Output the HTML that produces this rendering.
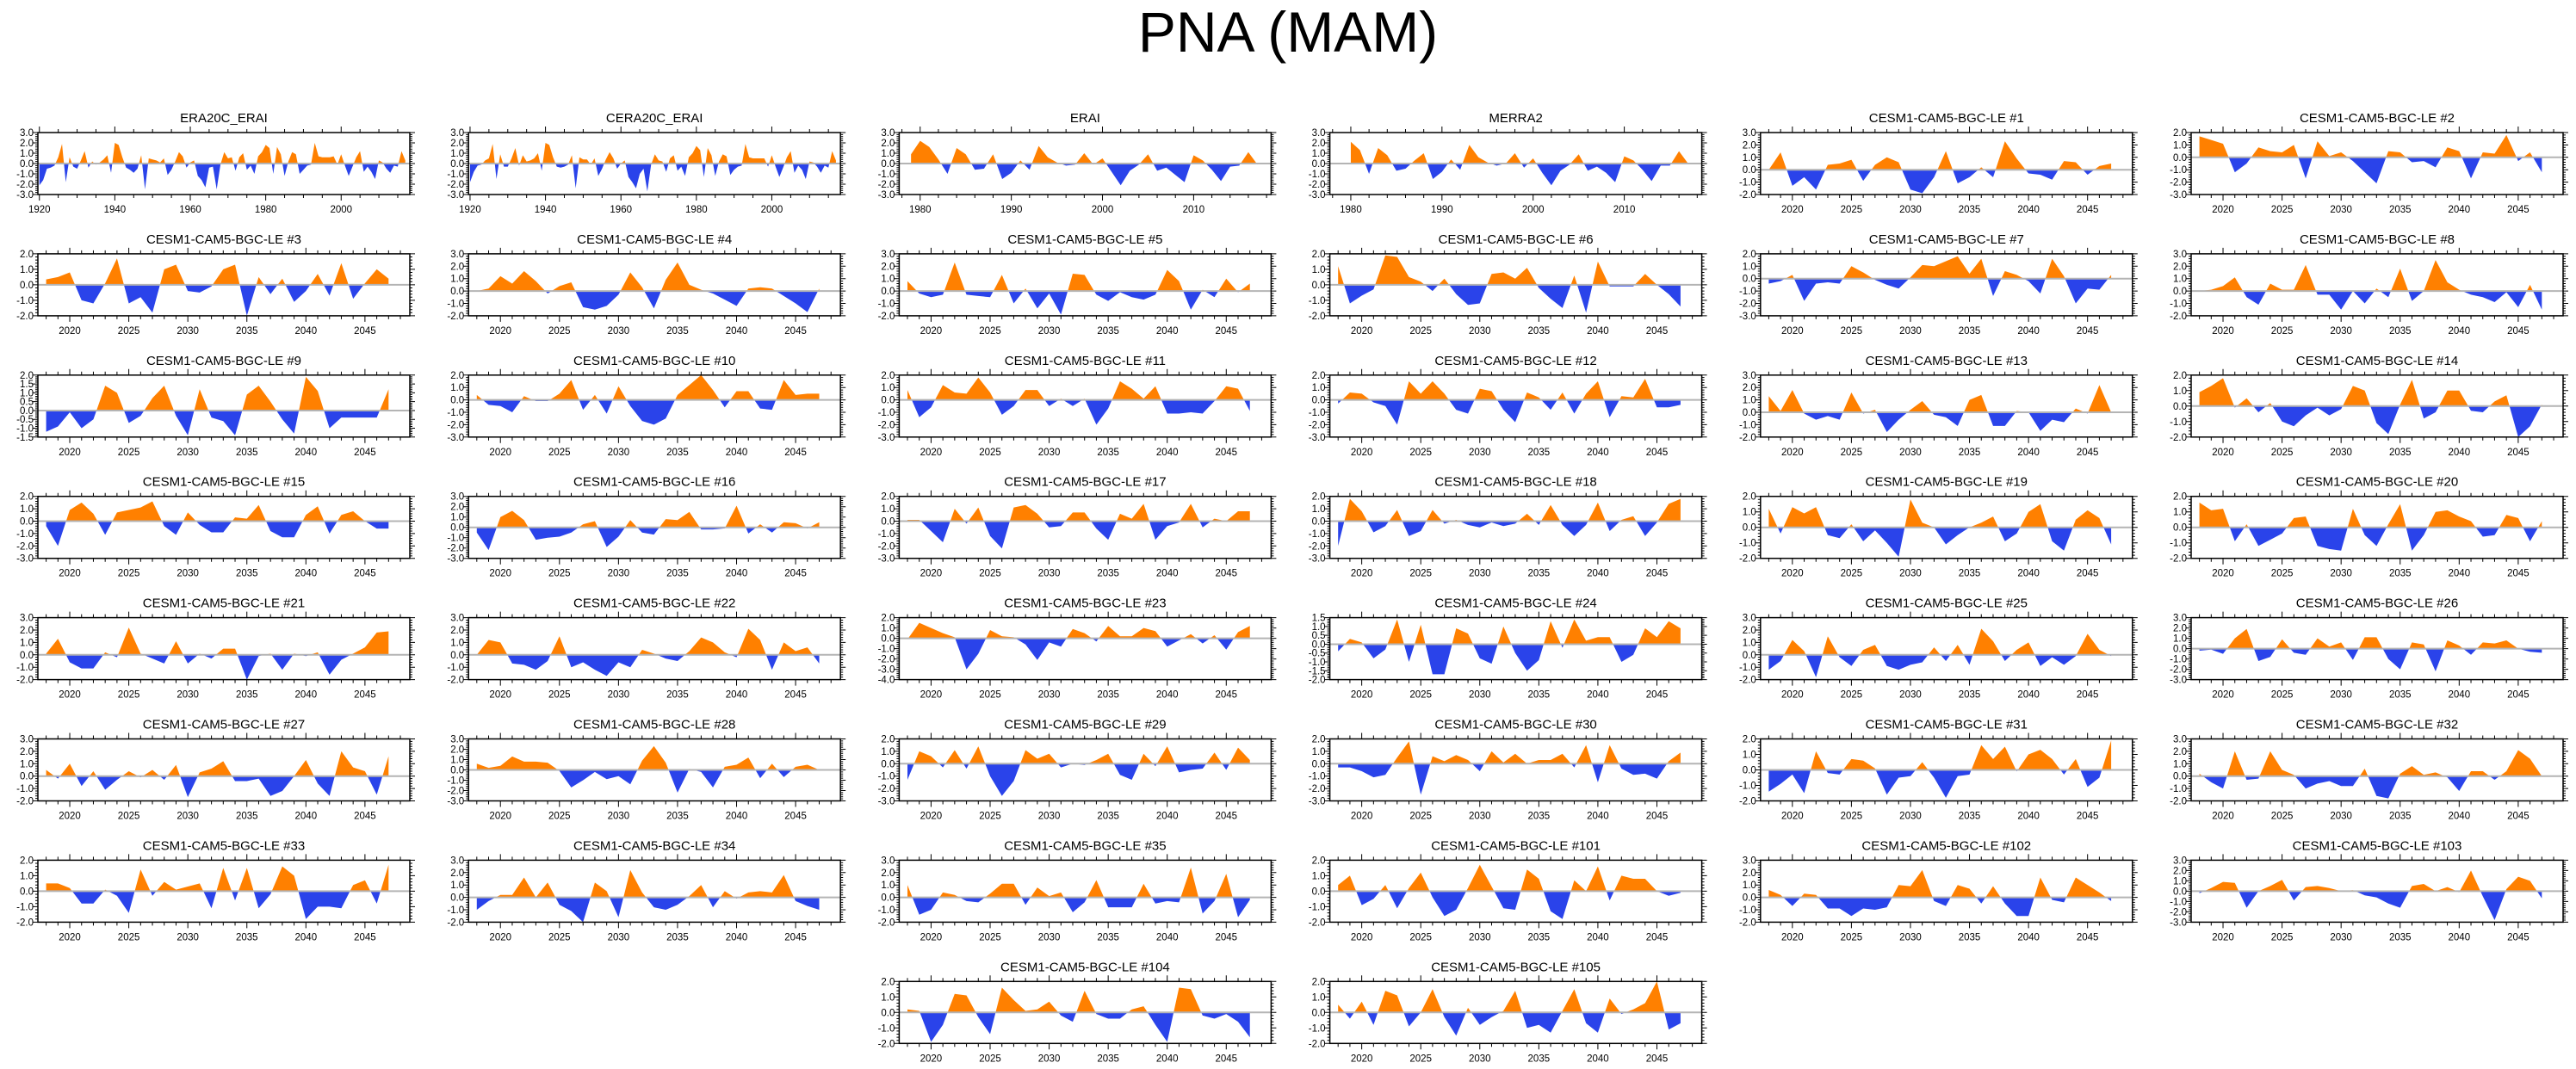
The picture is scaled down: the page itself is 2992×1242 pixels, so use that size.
<!DOCTYPE html>
<html><head><meta charset="utf-8">
<style>
html,body{margin:0;padding:0;background:#fff;}
svg{display:block;font-family:"Liberation Sans",Arial,sans-serif;}
</style></head>
<body>
<svg id="chart" width="2992" height="1242" viewBox="0 0 2992 1242" xmlns="http://www.w3.org/2000/svg">
<rect x="0" y="0" width="2992" height="1242" fill="#fff"/>
<text x="1496" y="60" font-size="66" text-anchor="middle" fill="#000">PNA (MAM)</text>
<g id="panels"></g>
</svg>
<script>
// ---- data arrays (PNA index values) ----
const s_era20c = [-2.1,-1.6,-0.5,-0.4,-0.2,0.6,1.9,-1.8,0.6,-0.3,-0.5,0.3,1.2,-0.4,0.2,-0.1,0.1,0.4,0.8,-0.9,2.0,1.8,0.6,-0.4,-0.6,-0.9,-0.5,0.8,-2.5,0.5,0.4,0.3,0.1,0.5,-1.1,-0.6,0.2,1.1,0.7,-0.4,0.1,0.3,-1.2,-1.6,-2.3,-0.4,-0.3,-2.5,-0.1,1.1,0.5,0.6,-0.7,0.6,1.0,-0.6,-0.2,-1.0,0.7,1.1,1.8,1.5,-1.0,1.6,0.9,-1.2,0.2,1.1,0.9,-1.0,-0.6,-0.2,-0.1,2.0,0.7,0.6,0.6,0.6,0.7,-0.1,0.9,-0.2,-1.2,-0.3,0.6,1.2,-0.8,-0.3,-0.8,-1.5,0.3,0.1,-0.5,-0.9,-0.2,-0.3,1.2,0.3];
const s_cera20c = [-1.8,-0.8,-0.2,-0.1,0.3,0.5,1.9,-1.5,0.9,-0.3,-0.3,0.5,1.5,-0.2,0.8,0.2,0.3,0.5,1.0,-0.7,2.0,1.8,0.6,-0.3,-0.4,-0.3,-0.1,0.8,-2.4,0.6,0.4,0.4,-0.1,0.5,-1.2,-0.5,0.4,1.1,0.5,-0.5,0.0,0.3,-1.3,-1.8,-2.4,-1.0,-0.5,-2.7,-0.1,0.9,0.3,0.2,-0.8,0.5,0.8,-0.7,-0.3,-1.2,0.6,1.0,1.7,1.3,-1.3,1.5,0.8,-1.2,0.2,0.9,0.7,-1.1,-0.6,-0.3,-0.2,1.9,0.6,0.5,0.5,0.5,0.5,-0.3,0.8,-0.3,-1.3,-0.4,0.6,1.2,-0.9,-0.2,-0.6,-1.5,0.2,0.1,-0.3,-0.9,-0.2,-0.4,1.2,0.3];
const s_erai = [0.9,2.2,1.6,0.4,-1.0,1.5,0.9,-0.6,-0.5,0.9,-1.5,-0.9,0.3,-0.6,1.7,0.6,0.1,-0.2,-0.1,1.0,-0.1,0.5,-0.8,-2.1,-0.7,-0.1,0.9,-0.7,-0.4,-1.1,-1.8,0.8,0.3,-0.6,-1.7,-0.3,-0.2,1.1,-0.1];
const s_merra2 = [2.1,1.3,-1.0,1.5,0.8,-0.7,-0.5,0.3,1.0,-1.5,-0.8,0.4,-0.6,1.8,0.6,0.1,-0.2,0.0,1.0,-0.4,0.5,-0.9,-2.1,-0.7,-0.1,0.9,-0.7,-0.3,-0.9,-1.8,0.7,0.3,-0.6,-1.7,-0.2,-0.2,1.2,0.0];
const s_le1 = [0.0,1.4,-1.3,-0.6,-1.6,0.4,0.5,0.8,-0.9,0.4,1.0,0.6,-1.6,-1.9,-0.6,1.5,-1.1,-0.6,0.2,-0.6,2.3,0.9,-0.3,-0.4,-0.8,0.7,0.6,-0.4,0.3,0.5];
const s_le2 = [1.7,1.4,1.1,-1.2,-0.5,0.8,0.5,0.4,1.0,-1.7,1.3,0.1,0.4,-0.3,-1.2,-2.1,0.5,0.4,-0.4,-0.3,-0.8,0.8,0.5,-1.7,0.4,0.3,1.8,-0.3,0.4,-1.2];
const s_le3 = [0.35,0.5,0.8,-1.0,-1.2,0.1,1.7,-1.2,-0.8,-1.8,1.0,1.3,-0.4,-0.5,-0.1,1.0,1.3,-2.0,0.5,-0.6,0.4,-1.1,-0.4,0.7,-0.7,1.4,-0.9,0.1,1.0,0.4];
const s_le4 = [0.0,0.2,1.2,0.6,1.6,0.8,-0.2,0.4,0.7,-1.3,-1.5,-1.2,-0.3,1.5,0.3,-1.4,0.9,2.3,0.5,0.1,-0.2,-0.7,-1.2,0.2,0.3,0.2,-0.4,-1.0,-1.7,0.2];
const s_le5 = [0.8,-0.2,-0.5,-0.3,2.3,-0.3,-0.4,-0.5,1.3,-1.0,0.2,-1.4,-0.2,-1.9,1.4,1.3,-0.3,-0.8,-0.1,-0.5,-0.7,-0.3,1.7,0.8,-1.5,0.1,-0.5,1.0,-0.1,0.6];
const s_le6 = [1.2,-1.2,-0.7,-0.3,1.9,1.8,0.5,0.2,-0.4,0.4,-0.6,-1.3,-1.2,0.7,0.8,0.4,1.1,-0.2,-0.9,-1.5,0.6,-1.8,1.5,-0.1,-0.1,-0.1,0.7,0.0,-0.6,-1.4];
const s_le7 = [-0.4,-0.2,0.3,-1.8,-0.4,-0.3,-0.4,1.0,0.5,-0.1,-0.5,-0.8,0.1,1.1,1.0,1.4,1.8,0.4,1.6,-1.4,0.6,0.3,-0.2,-1.2,1.6,0.2,-2.0,-0.8,-0.9,0.3];
const s_le8 = [0.0,0.1,0.4,1.1,-0.5,-1.1,0.6,0.1,0.1,2.1,-0.3,-0.3,-1.5,0.0,-1.0,0.2,-0.5,1.8,-0.8,0.0,2.5,0.7,0.1,-0.3,-0.5,-0.9,-0.1,-1.3,0.5,-1.5];
const s_le9 = [-1.2,-0.9,-0.1,-1.0,-0.5,1.4,1.0,-0.7,-0.3,0.7,1.4,-0.3,-1.4,1.2,-0.4,-0.6,-1.4,0.9,1.4,0.5,-0.5,-1.3,1.9,1.1,-1.0,-0.4,-0.4,-0.4,-0.4,1.2];
const s_le10 = [0.4,-0.4,-0.5,-1.0,0.3,-0.1,-0.1,0.5,1.6,-0.8,0.4,-1.1,1.1,-0.5,-1.7,-2.0,-1.5,0.4,1.2,2.0,0.8,-0.6,0.7,0.7,-0.7,-0.8,1.6,0.4,0.5,0.5];
const s_le11 = [0.8,-1.4,-0.6,1.2,0.6,0.5,1.8,0.6,-1.2,-0.5,0.8,0.8,-0.5,0.1,-0.5,0.1,-2.0,-0.7,1.5,0.9,0.1,1.1,-1.1,-1.1,-1.0,-1.1,-0.1,1.1,0.9,-0.9];
const s_le12 = [-0.3,0.6,0.5,-0.2,-0.5,-2.0,1.5,0.5,1.5,0.5,-0.8,-1.1,0.9,0.7,-0.8,-1.8,0.6,0.2,-0.8,0.6,-1.1,0.5,1.5,-1.4,0.3,0.2,1.7,-0.6,-0.6,-0.4];
const s_le13 = [1.3,0.1,1.8,-0.1,-0.6,-0.3,-0.6,1.6,-0.1,0.2,-1.6,-0.6,0.2,0.9,-0.2,-0.4,-1.1,1.0,1.4,-1.1,-1.1,0.1,0.0,-1.5,-0.6,-0.8,0.3,-0.1,2.2,0.0];
const s_le14 = [0.9,1.3,1.8,-0.1,0.5,-0.4,0.2,-1.0,-1.3,-0.6,-0.1,-0.6,-0.2,1.3,1.0,-1.1,-1.8,0.1,1.7,-0.8,-0.4,1.0,1.0,-0.3,-0.4,0.3,0.7,-2.0,-1.3,0.1];
const s_le15 = [-0.4,-2.0,0.9,1.5,0.6,-1.1,0.7,0.9,1.1,1.6,-0.4,-1.1,0.7,-0.3,-0.9,-0.9,0.3,0.2,1.3,-0.8,-1.3,-1.3,0.5,1.2,-1.0,0.5,0.8,0.0,-0.6,-0.6];
const s_le16 = [-0.5,-2.2,1.0,1.6,0.7,-1.2,-1.0,-0.9,-0.5,0.3,0.6,-1.9,-0.9,0.7,-0.5,-0.7,0.8,0.7,1.5,-0.2,-0.2,-0.1,2.1,-0.6,0.3,-0.5,0.5,0.4,-0.1,0.5];
const s_le17 = [0.1,0.1,-0.8,-1.7,1.0,-0.2,1.1,-1.2,-2.2,1.1,1.3,0.6,-0.5,-0.4,0.7,0.7,-0.6,-1.5,0.6,0.2,1.4,-1.5,-0.4,-0.1,1.4,-0.5,0.2,0.0,0.8,0.8];
const s_le18 = [-2.0,1.8,0.8,-0.9,-0.4,0.9,-1.2,-0.8,0.9,-0.2,0.1,-0.3,-0.5,-0.1,-0.4,-0.2,0.6,-0.3,1.3,-0.3,-1.2,-0.3,1.5,-0.8,0.1,0.4,-1.2,-0.1,1.4,1.8];
const s_le19 = [1.2,-0.4,1.3,0.9,1.3,-0.5,-0.7,0.2,-0.9,-0.2,-1.0,-1.9,1.8,0.3,0.0,-1.1,-0.5,0.0,0.3,0.7,-0.9,-0.4,1.0,1.5,-0.9,-1.5,0.5,1.1,0.6,-1.1];
const s_le20 = [1.6,1.1,1.2,-0.9,0.2,-1.2,-0.8,-0.4,0.6,0.7,-1.2,-1.4,-1.5,1.2,-0.5,-1.2,0.2,1.5,-1.5,-0.5,1.0,1.1,0.7,0.4,-0.6,-0.5,0.8,0.6,-0.9,0.4];
const s_le21 = [0.1,1.3,-0.6,-1.1,-1.1,0.2,-0.2,2.2,0.1,-0.3,-0.7,1.1,-0.7,0.1,-0.3,0.5,0.5,-2.0,-0.1,0.1,-1.2,0.1,-0.1,0.2,-1.6,-0.4,0.1,0.6,1.8,1.9];
const s_le22 = [0.0,1.2,1.0,-0.7,-0.8,-1.2,-0.5,1.5,-1.0,-0.6,-1.2,-1.7,-0.6,-1.0,0.4,0.1,-0.3,-0.5,0.3,1.4,1.0,0.2,-0.2,2.1,1.2,-1.2,1.0,0.3,0.6,-0.7];
const s_le23 = [-0.1,1.5,1.0,0.5,0.1,-3.0,-1.5,0.8,0.2,0.1,-0.6,-2.1,-0.4,-0.8,0.9,0.5,-0.3,1.2,0.2,0.2,1.0,0.7,-0.8,-0.2,0.4,-0.5,0.3,-1.1,0.6,1.2];
const s_le24 = [-0.4,0.3,0.1,-0.8,-0.3,1.4,-1.0,1.1,-1.7,-1.7,0.9,0.6,-0.8,-1.1,1.0,-0.5,-1.5,-0.9,1.3,-0.2,1.4,0.2,0.4,0.4,-1.0,-0.6,0.9,0.4,1.3,0.9];
const s_le25 = [-1.2,-0.5,1.2,0.3,-1.8,1.5,-0.2,-0.9,0.4,0.8,-0.9,-1.2,-0.8,-0.6,0.6,-0.5,0.8,-0.8,2.1,1.1,-0.5,0.4,1.0,-0.9,-0.2,-0.8,-0.1,1.7,0.4,-0.1];
const s_le26 = [-0.2,-0.1,-0.5,1.0,1.9,-1.2,-0.8,0.9,-0.4,-0.6,1.0,0.2,0.6,-1.1,1.1,1.1,-1.0,-2.0,0.6,0.4,-2.2,0.8,0.3,-0.6,0.6,0.5,0.8,0.0,-0.3,-0.4];
const s_le27 = [0.5,-0.2,1.0,-0.8,0.4,-1.1,-0.3,0.4,-0.1,0.5,-0.3,0.9,-1.7,0.3,0.6,1.2,-0.4,-0.4,-0.2,-1.6,-1.2,0.0,1.3,-0.6,-1.6,2.0,0.7,0.4,-1.5,1.6];
const s_le28 = [0.6,0.2,0.4,1.3,0.8,0.8,0.7,-0.1,-1.7,-1.0,-0.2,-0.9,-0.6,-1.4,0.9,2.3,0.7,-2.2,0.1,-0.2,-1.7,0.3,0.5,1.2,-0.8,0.6,-0.7,0.3,0.5,0.0];
const s_le29 = [-1.3,1.0,0.6,-0.3,1.1,-0.4,1.4,-1.0,-2.6,-1.4,1.1,0.4,0.8,-0.3,0.0,-0.1,0.3,0.8,-0.9,-1.3,0.8,-0.2,1.4,-0.7,-0.5,-0.4,0.9,-0.5,1.3,0.3];
const s_le30 = [-0.3,-0.3,-0.6,-1.1,-0.9,0.5,1.8,-2.5,0.6,0.2,0.7,0.3,-0.6,1.0,0.1,0.8,0.0,0.3,0.3,0.8,-0.3,1.5,-1.5,1.5,-0.4,-0.9,-0.8,-1.2,0.2,0.9];
const s_le31 = [-1.4,-0.9,-0.3,-1.5,1.2,-0.2,-0.3,0.7,0.6,0.1,-1.6,-0.5,-0.4,0.5,-0.5,-1.8,-0.4,-0.3,1.6,0.7,1.5,-0.1,1.0,1.3,0.7,-0.3,0.7,-1.1,-0.5,1.9];
const s_le32 = [0.2,-0.5,-1.0,2.0,-0.3,-0.2,2.0,0.5,0.1,-1.0,-0.6,-0.4,-0.8,-0.8,0.6,-1.6,-1.8,0.2,0.8,0.1,0.3,-0.1,-1.2,0.4,0.4,-0.3,0.4,2.1,1.4,0.0];
const s_le33 = [0.5,0.5,0.2,-0.8,-0.8,0.1,-0.3,-1.4,1.4,-0.3,0.6,0.1,0.3,0.5,-1.1,1.5,-0.6,1.5,-1.1,-0.2,1.6,1.0,-1.8,-1.0,-1.0,-1.1,0.4,0.7,-0.8,1.7];
const s_le34 = [-1.0,-0.3,0.2,0.2,1.6,0.0,1.2,-0.6,-1.1,-2.0,1.2,0.5,-1.6,2.2,0.4,-0.8,-1.0,-0.6,0.1,1.0,-0.8,0.5,-0.1,0.4,0.5,0.4,1.8,-0.3,-0.7,-1.0];
const s_le35 = [1.0,-1.4,-1.0,0.4,0.2,-0.3,-0.4,0.3,1.1,1.1,-0.6,0.8,0.1,0.4,-1.2,-0.4,1.4,-0.8,-0.8,-0.8,1.1,-0.5,-0.3,-0.4,2.4,-1.3,-0.3,1.9,-1.6,-0.2];
const s_le101 = [0.4,1.0,-0.9,-0.5,0.4,-1.1,0.2,1.2,-0.4,-1.6,-1.2,0.2,1.7,0.3,-1.1,-1.2,1.4,0.8,-1.3,-1.8,0.7,0.0,1.6,-0.6,1.0,0.8,0.8,0.0,-0.3,-0.1];
const s_le102 = [0.6,0.2,-0.7,0.3,0.2,-0.9,-0.9,-1.5,-0.9,-1.0,-0.8,1.0,0.9,2.2,-0.3,-0.7,1.0,0.7,-0.5,0.9,-0.5,-1.5,-1.5,1.6,-0.2,-0.4,1.6,1.0,0.4,-0.3];
const s_le103 = [-0.2,0.3,0.9,0.8,-1.6,0.0,0.5,1.1,-0.9,0.4,0.5,0.3,0.0,0.1,-0.4,-0.6,-1.2,-1.6,0.5,0.7,0.0,0.4,-0.1,2.0,-0.5,-2.8,0.2,1.4,1.0,-0.7];
const s_le104 = [0.2,0.1,-1.9,-0.8,1.2,1.1,-0.3,-1.4,1.6,0.8,0.1,0.2,0.7,-0.2,-0.6,1.4,-0.1,-0.4,-0.4,0.2,0.4,-0.8,-1.9,1.6,1.5,-0.2,-0.4,-0.1,-0.6,-1.6];
const s_le105 = [0.5,-0.4,0.7,-0.8,1.4,1.1,-0.9,0.0,1.5,-0.3,-1.5,0.3,-0.8,-0.3,0.1,1.4,-1.0,-0.8,-1.3,0.1,1.5,-0.7,-1.3,0.9,-0.1,0.2,0.6,2.0,-1.1,-0.7];

const panelTitles = ["ERA20C_ERAI","CERA20C_ERAI","ERAI","MERRA2","CESM1-CAM5-BGC-LE #1","CESM1-CAM5-BGC-LE #2",
 "CESM1-CAM5-BGC-LE #3","CESM1-CAM5-BGC-LE #4","CESM1-CAM5-BGC-LE #5","CESM1-CAM5-BGC-LE #6","CESM1-CAM5-BGC-LE #7","CESM1-CAM5-BGC-LE #8",
 "CESM1-CAM5-BGC-LE #9","CESM1-CAM5-BGC-LE #10","CESM1-CAM5-BGC-LE #11","CESM1-CAM5-BGC-LE #12","CESM1-CAM5-BGC-LE #13","CESM1-CAM5-BGC-LE #14",
 "CESM1-CAM5-BGC-LE #15","CESM1-CAM5-BGC-LE #16","CESM1-CAM5-BGC-LE #17","CESM1-CAM5-BGC-LE #18","CESM1-CAM5-BGC-LE #19","CESM1-CAM5-BGC-LE #20",
 "CESM1-CAM5-BGC-LE #21","CESM1-CAM5-BGC-LE #22","CESM1-CAM5-BGC-LE #23","CESM1-CAM5-BGC-LE #24","CESM1-CAM5-BGC-LE #25","CESM1-CAM5-BGC-LE #26",
 "CESM1-CAM5-BGC-LE #27","CESM1-CAM5-BGC-LE #28","CESM1-CAM5-BGC-LE #29","CESM1-CAM5-BGC-LE #30","CESM1-CAM5-BGC-LE #31","CESM1-CAM5-BGC-LE #32",
 "CESM1-CAM5-BGC-LE #33","CESM1-CAM5-BGC-LE #34","CESM1-CAM5-BGC-LE #35","CESM1-CAM5-BGC-LE #101","CESM1-CAM5-BGC-LE #102","CESM1-CAM5-BGC-LE #103",
 "CESM1-CAM5-BGC-LE #104","CESM1-CAM5-BGC-LE #105"];
const panelSeries = [s_era20c,s_cera20c,s_erai,s_merra2,s_le1,s_le2,s_le3,s_le4,s_le5,s_le6,s_le7,s_le8,s_le9,s_le10,s_le11,s_le12,s_le13,s_le14,
 s_le15,s_le16,s_le17,s_le18,s_le19,s_le20,s_le21,s_le22,s_le23,s_le24,s_le25,s_le26,s_le27,s_le28,s_le29,s_le30,s_le31,s_le32,
 s_le33,s_le34,s_le35,s_le101,s_le102,s_le103,s_le104,s_le105];
const startYears = [1920,1920,1979,1980];   // others start 2018
const yMins = [-3,-3,-3,-3,-2,-3, -2,-2,-2,-2,-3,-2, -1.5,-3,-3,-3,-2,-2, -3,-3,-3,-3,-2,-2, -2,-2,-4,-2,-2,-3, -2,-3,-3,-3,-2,-2, -2,-2,-2,-2,-2,-3, -2,-2];
const yMaxs = [3,3,3,3,3,2, 2,3,3,2,2,3, 2,2,2,2,3,2, 2,3,2,2,2,2, 3,3,2,1.5,3,3, 3,3,2,2,2,3, 2,3,3,2,3,3, 2,2];
const yMajorSteps = [1,1,1,1,1,1, 1,1,1,1,1,1, 0.5,1,1,1,1,1, 1,1,1,1,1,1, 1,1,1,0.5,1,1, 1,1,1,1,1,1, 1,1,1,1,1,1, 1,1];

// ---- layout ----
const NS = "http://www.w3.org/2000/svg";
const root = document.getElementById("panels");
const PW = 432, PH = 72;
function mk(tag, attrs, parent){ const e=document.createElementNS(NS,tag); for(const k in attrs) e.setAttribute(k,attrs[k]); parent.appendChild(e); return e; }

panelSeries.forEach((vals, i) => {
  let row = Math.floor(i/6), col = i%6;
  if (i >= 42) { row = 7; col = (i-42) + 2; }
  const left = 44 + col*500.2, top = 154 + row*140.9;
  const start = i < 4 ? startYears[i] : 2018;
  let xmin, xmax, xMaj, xMin;
  if (i < 2) { xmin=1919.6; xmax=2018.2; xMaj=20; xMin=5; }
  else if (i < 4) { xmin=1977.7; xmax=2018.5; xMaj=10; xMin=2; }
  else { xmin=2017.3; xmax=2048.8; xMaj=5; xMin=1; }
  const ymin=yMins[i], ymax=yMaxs[i], ystep=yMajorSteps[i];
  const sx = v => left + (v-xmin)/(xmax-xmin)*PW;
  const sy = v => top + (ymax-v)/(ymax-ymin)*PH;

  const g = mk("g", {}, root);
  
  

  const t = mk("text", {x:left+PW/2, y:top-12, "font-size":15, "text-anchor":"middle", fill:"#000"}, g);
  t.textContent = panelTitles[i];
  
  

  // fill polygons
  const pts = [];
  for (let k=0;k<vals.length;k++){
    const x=start+k, v=vals[k];
    if (k>0){
      const pv=vals[k-1];
      if ((pv>0&&v<0)||(pv<0&&v>0)){ const fr=pv/(pv-v); pts.push([x-1+fr,0]); }
    }
    pts.push([x,v]);
  }
  const x0=sx(pts[0][0]), x1=sx(pts[pts.length-1][0]), z=sy(0);
  let dp="M"+x0.toFixed(2)+","+z.toFixed(2), dn=dp;
  pts.forEach(p=>{ dp+="L"+sx(p[0]).toFixed(2)+","+sy(Math.max(p[1],0)).toFixed(2); dn+="L"+sx(p[0]).toFixed(2)+","+sy(Math.min(p[1],0)).toFixed(2); });
  dp+="L"+x1.toFixed(2)+","+z.toFixed(2)+"Z"; dn+="L"+x1.toFixed(2)+","+z.toFixed(2)+"Z";
  const pp = mk("path",{d:dp, fill:"#ff8000"}, g);
  
  
  const np = mk("path",{d:dn, fill:"#2a43ea"}, g);
  
  

  const zl = mk("line",{x1:left, x2:left+PW, y1:z, y2:z, stroke:"#b4b4b4", "stroke-width":2}, g);
  
  

  // ticks
  let tk = "";
  const yMinor = ystep/5;
  for (let v=ymin; v<=ymax+1e-6; v+=yMinor){
    const vv=Math.round(v*1000)/1000, y=sy(vv);
    const major = Math.abs(vv/ystep - Math.round(vv/ystep))<1e-6;
    const L = major?6:3;
    tk += `M${left},${y}h${-L}M${left+PW},${y}h${L}`;
    if (major){
      const lb = mk("text",{x:left-5, y:y+4, "font-size":11.5, "text-anchor":"end", fill:"#000"}, g);
      lb.textContent = vv.toFixed(1);
      
      
    }
  }
  for (let yr=Math.ceil(xmin/xMin)*xMin; yr<=xmax; yr+=xMin){
    const x=sx(yr), major = yr%xMaj===0;
    const L = major?7:4;
    tk += `M${x},${top}v${-L}M${x},${top+PH}v${L}`;
    if (major){
      const lb = mk("text",{x:x, y:top+PH+21, "font-size":11.5, "text-anchor":"middle", fill:"#000"}, g);
      lb.textContent = String(yr);
      
      
    }
  }
  const tp = mk("path",{d:tk, stroke:"#000", "stroke-width":1, fill:"none"}, g);
  
  

  const box = mk("rect",{x:left, y:top, width:PW, height:PH, fill:"none", stroke:"#000", "stroke-width":1.5}, g);
  
  
});
</script>
</body></html>
